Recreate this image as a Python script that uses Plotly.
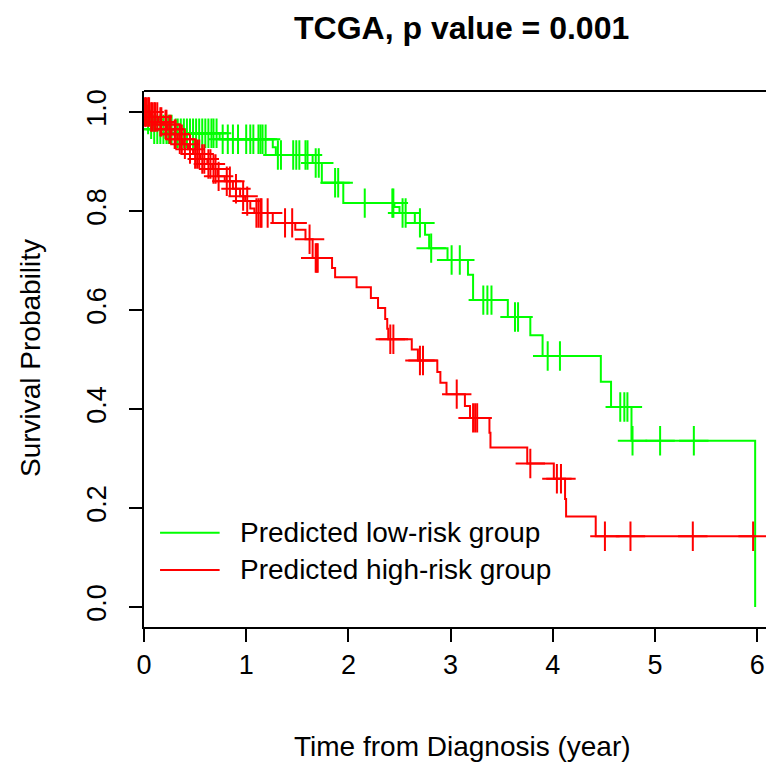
import numpy as np
import plotly.graph_objects as go

# ---------------- data ----------------
low_times = [0.02, 0.06, 0.09, 0.30, 0.74, 1.26, 1.29, 1.65, 1.74, 1.95, 2.45, 2.50, 2.65, 2.75,
             2.79, 2.97, 3.17, 3.22, 3.56, 3.78, 3.90, 4.47, 4.57, 4.77, 5.98]
low_surv = [0.985, 0.975, 0.965, 0.957, 0.945, 0.929, 0.913, 0.897, 0.857, 0.816, 0.808, 0.796,
            0.776, 0.752, 0.725, 0.701, 0.671, 0.620, 0.586, 0.549, 0.507, 0.455, 0.404, 0.336, 0.0]
low_censor = [0.04, 0.07, 0.10, 0.13, 0.16, 0.19, 0.22, 0.24, 0.27, 0.31, 0.33, 0.36, 0.39, 0.42,
              0.45, 0.48, 0.51, 0.54, 0.57, 0.60, 0.63, 0.66, 0.68, 0.71,
              0.77, 0.82, 0.87, 0.92, 1.00, 1.04, 1.07, 1.12, 1.14, 1.16, 1.19,
              1.31, 1.34, 1.46, 1.49, 1.52, 1.58, 1.60, 1.68, 1.71, 1.87, 1.90,
              2.16, 2.43, 2.44, 2.53, 2.56, 2.70, 2.81, 3.01, 3.09, 3.32, 3.36, 3.40,
              3.63, 3.66, 3.95, 4.07, 4.66, 4.70, 4.73, 4.78, 5.05, 5.38]

high_times = [0.06, 0.14, 0.19, 0.23, 0.27, 0.33, 0.38, 0.43, 0.48, 0.55, 0.62, 0.67, 0.72, 0.79,
              0.87, 0.94, 0.99, 1.04, 1.08, 1.26, 1.48, 1.58, 1.65, 1.84, 1.87, 2.08, 2.22, 2.29,
              2.36, 2.38, 2.39, 2.62, 2.68, 2.87, 2.90, 2.96, 3.14, 3.19, 3.38, 3.39, 3.75, 4.01,
              4.12, 4.13, 4.42]
high_surv = [0.990, 0.980, 0.975, 0.965, 0.955, 0.945, 0.935, 0.925, 0.915, 0.905, 0.895, 0.885,
             0.870, 0.860, 0.845, 0.830, 0.820, 0.805, 0.796, 0.776, 0.762, 0.743, 0.705, 0.685,
             0.666, 0.646, 0.624, 0.604, 0.582, 0.562, 0.541, 0.520, 0.498, 0.475, 0.453, 0.430,
             0.406, 0.382, 0.352, 0.322, 0.290, 0.259, 0.218, 0.183, 0.143]
high_end = 5.98
high_censor = [0.01, 0.02, 0.04, 0.05, 0.07, 0.08, 0.10, 0.11, 0.13, 0.16, 0.17, 0.21, 0.22, 0.25,
               0.26, 0.30, 0.31, 0.35, 0.37, 0.40, 0.45, 0.50, 0.52, 0.54, 0.57, 0.59, 0.63, 0.65,
               0.68, 0.70, 0.73, 0.81, 0.84, 0.90, 0.97, 1.01, 1.10, 1.12, 1.14, 1.15, 1.21,
               1.38, 1.45, 1.62, 1.68, 1.69, 1.70, 2.41, 2.44, 2.70, 2.73, 3.06, 3.22, 3.24, 3.26,
               3.78, 4.04, 4.08, 4.51, 4.76, 5.37, 5.96]

x_ticks = [0, 1, 2, 3, 4, 5, 6]
y_ticks = [0.0, 0.2, 0.4, 0.6, 0.8, 1.0]
y_tick_labels = ["0.0", "0.2", "0.4", "0.6", "0.8", "1.0"]
labels = ["Predicted low-risk group", "Predicted high-risk group"]
title = "TCGA, p value = 0.001"
x_title = "Time from Diagnosis (year)"
y_title = "Survival Probability"

GREEN = "#00FF00"
RED = "#FF0000"
FONT = "Liberation Sans, Arial, sans-serif"

# page offset of the plot div (browser body margin) and plot area geometry
OFF = 8
PLOT_L, PLOT_T, PLOT_B = 144, 91, 627      # page pixels of plot box
PLOT_W = 774 + OFF - PLOT_L                # box extends past the right edge
PLOT_H = PLOT_B - PLOT_T


def px(x):
    return (x - PLOT_L) / PLOT_W


def py(y):
    return (PLOT_B - y) / PLOT_H


def step_at(times, surv, t):
    idx = np.searchsorted(np.array(times), t, side="right") - 1
    return 1.0 if idx < 0 else surv[idx]


fig = go.Figure()

gx = [0.0] + low_times
gy = [1.0] + low_surv
fig.add_trace(go.Scatter(x=gx, y=gy, mode="lines", line=dict(color=GREEN, width=2, shape="hv"),
                         showlegend=False, hoverinfo="skip"))
fig.add_trace(go.Scatter(x=low_censor, y=[step_at(low_times, low_surv, t) for t in low_censor],
                         mode="markers",
                         marker=dict(symbol="cross-thin", size=21, line=dict(color=GREEN, width=2)),
                         showlegend=False, hoverinfo="skip"))
rx = [0.0] + high_times + [high_end]
ry = [1.0] + high_surv + [high_surv[-1]]
fig.add_trace(go.Scatter(x=rx, y=ry, mode="lines", line=dict(color=RED, width=2, shape="hv"),
                         showlegend=False, hoverinfo="skip"))
fig.add_trace(go.Scatter(x=high_censor, y=[step_at(high_times, high_surv, t) for t in high_censor],
                         mode="markers",
                         marker=dict(symbol="cross-thin", size=21, line=dict(color=RED, width=2)),
                         showlegend=False, hoverinfo="skip"))

# manual legend (no box)
legend_y = [0.150, 0.075]
for lab, col, ly in zip(labels, [GREEN, RED], legend_y):
    fig.add_shape(type="line", xref="x", yref="y", x0=0.157, x1=0.74, y0=ly, y1=ly,
                  line=dict(color=col, width=2))
    fig.add_annotation(x=0.92, y=ly, xref="x", yref="y", text=lab, showarrow=False,
                       xanchor="left", yanchor="middle", font=dict(family=FONT, size=28, color="#000"))

# box top edge
fig.add_shape(type="line", xref="paper", yref="paper", x0=0, x1=1, y0=1, y1=1,
              line=dict(color="#000", width=2))

fig.add_annotation(x=px(461), y=py(OFF + 0.5), xref="paper", yref="paper",
                   text="<b>" + title + "</b>", showarrow=False, xanchor="center", yanchor="top",
                   font=dict(family=FONT, size=32, color="#000"))
fig.add_annotation(x=px(462), y=py(746), xref="paper", yref="paper",
                   text=x_title, showarrow=False, xanchor="center", yanchor="middle",
                   font=dict(family=FONT, size=28, color="#000"))
fig.add_annotation(x=px(30), y=py(358), xref="paper", yref="paper",
                   text=y_title, showarrow=False, xanchor="center", yanchor="middle", textangle=-90,
                   font=dict(family=FONT, size=28, color="#000"))

fig.update_layout(
    width=774, height=768,
    margin=dict(l=PLOT_L - OFF, r=0, t=PLOT_T - OFF, b=768 - (PLOT_B - OFF), pad=0),
    paper_bgcolor="white", plot_bgcolor="white",
    showlegend=False,
)
fig.update_xaxes(range=[0, PLOT_W / 102.2], tickvals=x_ticks, ticktext=[str(v) for v in x_ticks],
                 ticks="outside", ticklen=13, tickwidth=2, tickcolor="#000",
                 showline=True, linecolor="#000", linewidth=2, showgrid=False, zeroline=False,
                 tickfont=dict(family=FONT, size=27, color="#000"), ticklabelstandoff=0)
fig.update_yaxes(range=[-20 / 495, 516 / 495], tickvals=y_ticks, ticktext=y_tick_labels,
                 ticks="outside", ticklen=13, tickwidth=2, tickcolor="#000",
                 showline=True, linecolor="#000", linewidth=2, showgrid=False, zeroline=False,
                 tickangle=-90, tickfont=dict(family=FONT, size=27, color="#000"),
                 ticklabelstandoff=12)

fig.write_html("out.html")
